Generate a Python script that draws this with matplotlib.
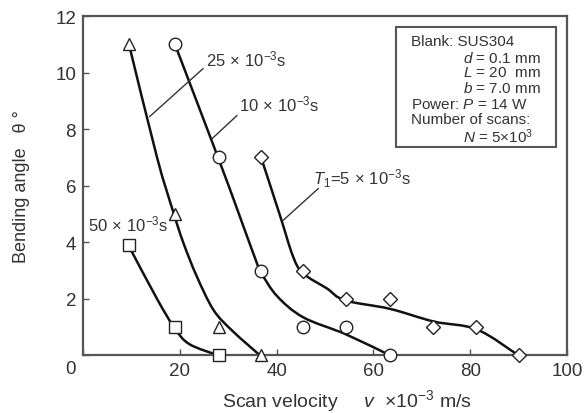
import numpy as np
import matplotlib
matplotlib.use('Agg')
import matplotlib.pyplot as plt
from matplotlib.path import Path
from matplotlib.patches import PathPatch, Rectangle

plt.rcParams['font.family'] = ['Liberation Sans', 'DejaVu Sans']
plt.rcParams['mathtext.fontset'] = 'custom'
plt.rcParams['mathtext.rm'] = 'Liberation Sans'
plt.rcParams['mathtext.it'] = 'Liberation Sans:italic'

# measured points: scan velocity (x10^-3 m/s) vs bending angle (deg)
sq_v = [9.5, 19, 28]
sq_th = [3.9, 1.0, 0]
tri_v = [9.5, 19, 28, 36.8]
tri_th = [11, 5, 1.0, 0]
cir_v = [19, 28, 36.8, 45.5, 54.3, 63.5]
cir_th = [11, 7, 3, 1.0, 1.0, 0]
dia_v = [36.8, 45.5, 54.3, 63.5, 72.3, 81.2, 90]
dia_th = [7, 3, 2, 2, 1.0, 1.0, 0]

# hand-fitted trend curves (knots)
sq_fit_v = [9.5, 15.3, 19, 22, 28]
sq_fit_th = [3.86, 2.0, 0.95, 0.4, 0.0]
tri_fit_v = [9.5, 15.3, 18.6, 20.7, 23.5, 27, 31, 36.6]
tri_fit_th = [11, 7.0, 5.1, 4.0, 2.8, 1.6, 0.85, 0.0]
cir_fit_v = [19, 27.9, 31.8, 35.1, 36.8, 40.1, 45.5, 54.3, 63.5]
cir_fit_th = [11, 7.0, 5.2, 3.65, 2.94, 2.1, 1.35, 0.75, 0.0]
dia_fit_v = [36.8, 40.7, 43.4, 45.5, 50.4, 54.1, 63.4, 72.5, 81.4, 90]
dia_fit_th = [7.0, 4.95, 3.5, 2.9, 2.37, 1.95, 1.65, 1.2, 0.92, 0.0]

xticks = [0, 20, 40, 60, 80, 100]
yticks = [0, 2, 4, 6, 8, 10, 12]


def smooth_path(xs, ys):
    # Catmull-Rom knots turned into cubic bezier segments
    pts = np.column_stack([xs, ys]).astype(float)
    n = len(pts)
    verts = [pts[0]]
    codes = [Path.MOVETO]
    for i in range(n - 1):
        p0 = pts[i - 1] if i > 0 else pts[i]
        p1 = pts[i]
        p2 = pts[i + 1]
        p3 = pts[i + 2] if i + 2 < n else pts[i + 1]
        c1 = p1 + (p2 - p0) / 6.0
        c2 = p2 - (p3 - p1) / 6.0
        verts += [c1, c2, p2]
        codes += [Path.CURVE4] * 3
    return Path(verts, codes)


fig = plt.figure(figsize=(5.87, 4.14), dpi=100)
ax = fig.add_axes([0.1414, 0.1389, 0.8245, 0.8200])
ax.set_xlim(0, 100)
ax.set_ylim(0, 12)

for fv, ft in [(sq_fit_v, sq_fit_th), (tri_fit_v, tri_fit_th),
               (cir_fit_v, cir_fit_th), (dia_fit_v, dia_fit_th)]:
    ax.add_patch(PathPatch(smooth_path(fv, ft), fc='none', ec='#111111',
                           lw=1.8, zorder=2, clip_on=False))

mk = dict(ls='none', mfc='white', mec='#222222', mew=1.0, zorder=3, clip_on=False)
ax.plot(sq_v, sq_th, marker='s', ms=8, **mk)
ax.plot(tri_v, tri_th, marker='^', ms=8, **mk)
ax.plot(cir_v, cir_th, marker='o', ms=9, **mk)
ax.plot(dia_v, dia_th, marker='D', ms=7, **mk)

# curve labels with leader lines
txt = dict(fontsize=12, color='#333333', va='baseline', ha='left')
ax.text(25.4, 10.27, r'25$\,\times\,$10$^{-3}$s', **txt)
ax.plot([13.8, 24.8], [8.45, 10.14], color='#333333', lw=1.0)
ax.text(32.3, 8.68, r'10$\,\times\,$10$^{-3}$s', **txt)
ax.plot([26.7, 31.8], [7.67, 8.48], color='#333333', lw=1.0)
ax.text(47.6, 6.08, r'$T_1$=5$\,\times\,$10$^{-3}$s', **txt)
ax.plot([41.3, 48.6], [4.77, 5.9], color='#333333', lw=1.0)
ax.text(1.0, 4.42, r'50$\,\times\,$10$^{-3}$s', **txt)

# conditions box
ax.add_patch(Rectangle((0.647, 0.614), 0.330, 0.354, transform=ax.transAxes,
                       fc='white', ec='#555555', lw=1.5, zorder=4))
box_lines = [
    (0.678, 0.926, 'Blank: SUS304'),
    (0.785, 0.879, r'$d$ = 0.1 mm'),
    (0.785, 0.835, r'$L$ = 20  mm'),
    (0.785, 0.788, r'$b$ = 7.0 mm'),
    (0.678, 0.741, r'Power: $P$ = 14 W'),
    (0.678, 0.697, 'Number of scans:'),
    (0.785, 0.647, r'$N$ = 5$\times$10$^{3}$'),
]
for bx, by, s in box_lines:
    ax.text(bx, by, s, transform=ax.transAxes, fontsize=11, color='#333333',
            va='center', ha='left', zorder=5)

ax.set_xticks(xticks)
ax.set_xticklabels([''] + [str(t) for t in xticks[1:]])
ax.set_yticks(yticks)
ax.set_yticklabels([''] + [str(t) for t in yticks[1:]])
ax.text(-0.025, -0.037, '0', transform=ax.transAxes, fontsize=13.5,
        color='#333333', ha='center', va='center')
ax.tick_params(direction='in', length=4, width=1.0, color='#555555',
               labelsize=13.5, labelcolor='#333333', pad=5)
for sp in ax.spines.values():
    sp.set_color('#555555')
    sp.set_linewidth(1.6)

fig.text(0.037, 0.55, 'Bending angle   θ °', rotation=90, fontsize=13,
         color='#333333', ha='center', va='center')
fig.text(0.591, 0.032, r'Scan velocity     $v$  $\times$10$^{-3}$ m/s',
         fontsize=14, color='#333333', ha='center', va='center')

fig.savefig('out.png', dpi=100)
